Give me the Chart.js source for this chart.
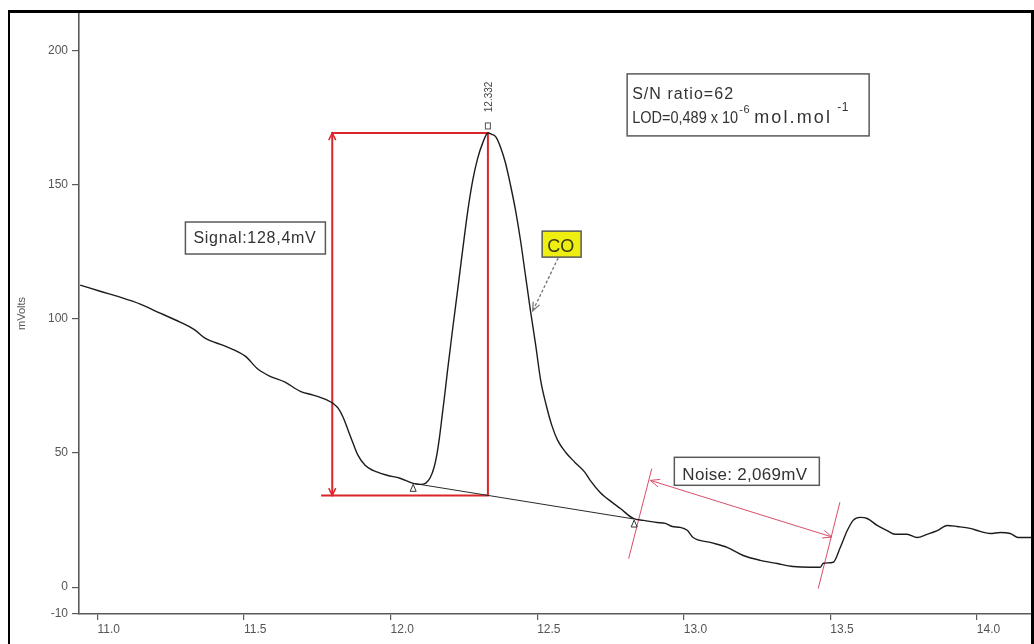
<!DOCTYPE html>
<html>
<head>
<meta charset="utf-8">
<title>CO peak – signal to noise</title>
<script src="https://cdn.jsdelivr.net/npm/chart.js@4.4.1/dist/chart.umd.min.js"></script>
<style>
  html, body { margin: 0; padding: 0; background: #fff; }
  canvas { display: block; }
</style>
</head>
<body>
<canvas id="chrom" width="1034" height="644"></canvas>
<script>
// Detector trace: retention time (min) and signal (mV)
const traceTime = [
  10.941, 11.009, 11.077, 11.146, 11.214, 11.282, 11.333, 11.367, 11.436, 11.504,
  11.548, 11.589, 11.640, 11.692, 11.736, 11.784, 11.804, 11.821, 11.838, 11.855,
  11.872, 11.889, 11.913, 11.940, 11.988, 12.032, 12.077, 12.101, 12.120, 12.135,
  12.148, 12.158, 12.167, 12.176, 12.185, 12.194, 12.203, 12.212, 12.229, 12.246,
  12.263, 12.280, 12.297, 12.314, 12.332, 12.345, 12.359, 12.376, 12.392, 12.409,
  12.426, 12.443, 12.460, 12.477, 12.495, 12.512, 12.531, 12.550, 12.570, 12.597,
  12.629, 12.663, 12.681, 12.715, 12.756, 12.783, 12.828, 12.862, 12.909, 12.937,
  12.961, 12.988, 13.012, 13.032, 13.090, 13.148, 13.203, 13.261, 13.319, 13.373,
  13.431, 13.466, 13.476, 13.510, 13.534, 13.558, 13.578, 13.602, 13.626, 13.660,
  13.694, 13.721, 13.762, 13.796, 13.830, 13.865, 13.899, 13.933, 13.977, 14.011,
  14.046, 14.080, 14.114, 14.141, 14.192
];
const traceSignal = [
  112.6, 110.3, 108.1, 105.5, 102.1, 98.8, 95.8, 92.8, 89.8, 86.1,
  81.2, 78.6, 76.4, 73.0, 71.6, 69.7, 68.5, 66.7, 63.3, 58.5,
  53.6, 49.1, 45.4, 43.5, 41.7, 40.6, 38.7, 38.3, 38.8, 40.8,
  44.5, 49.5, 56.0, 64.0, 72.0, 80.5, 88.5, 96.5, 111.0, 125.8,
  140.0, 151.5, 159.8, 165.5, 169.3, 168.8, 167.8, 163.7, 158.1, 149.9,
  140.6, 129.4, 116.3, 103.2, 90.2, 77.1, 67.8, 60.3, 54.7, 50.3,
  46.5, 42.8, 39.8, 35.3, 31.6, 29.4, 25.6, 24.9, 24.1, 23.8,
  22.6, 22.3, 21.2, 18.5, 16.7, 14.8, 11.8, 10.0, 8.8, 7.7,
  7.4, 7.4, 8.9, 9.3, 14.8, 21.1, 24.9, 26.0, 25.6, 23.0,
  21.1, 19.7, 19.7, 18.5, 19.7, 21.1, 23.0, 22.6, 21.9, 20.8,
  20.0, 20.4, 20.0, 18.5, 18.5
];

// Axis ticks
const xTickValues = [11.0, 11.5, 12.0, 12.5, 13.0, 13.5, 14.0];
const yTickValues = [-10, 0, 50, 100, 150, 200];

// Integration results for the CO peak
const peakName = 'CO';
const peakTime = 12.332;
const peakHeight = 169.3;
const baselineTime = [12.077, 12.831];
const baselineSignal = [38.7, 25.4];
const signalLabel = 'Signal:128,4mV';
const noiseLabel = 'Noise: 2,069mV';
const ratioLabel = 'S/N ratio=62';
const lodLabel = ['LOD=0,489 x 10', '-6', 'mol.mol', '-1'];

// Signal bracket: left edge time of the measuring bar
const signalBarTime = [11.763, 11.801];

// Noise window: two limit lines and the measuring arrow
const noiseLeftTime = [12.812, 12.891];
const noiseLeftSignal = [10.6, 44.2];
const noiseRightTime = [13.459, 13.533];
const noiseRightSignal = [-0.5, 31.7];
const noiseArrowTime = [12.886, 13.506];
const noiseArrowSignal = [39.8, 18.7];

const FONT = '"Liberation Sans", Arial, Helvetica, sans-serif';
const RED = '#d9262a';
const PINK = '#d8506a';

const pts = (ts, vs) => ts.map((t, i) => ({ x: t, y: vs[i] }));

// baseline level under the peak apex
const baseAtPeak = baselineSignal[0] + (peakTime - baselineTime[0]) *
  (baselineSignal[1] - baselineSignal[0]) / (baselineTime[1] - baselineTime[0]);

const signalBracket = [
  { x: signalBarTime[0], y: baseAtPeak },
  { x: peakTime, y: baseAtPeak },
  { x: peakTime, y: peakHeight },
  { x: signalBarTime[1], y: peakHeight },
  { x: signalBarTime[1], y: baseAtPeak }
];

// writes text so that it spans the given width:
// narrower text is squeezed, wider room is filled by letter spacing
function fitText(ctx, text, x, y, w, size, color) {
  ctx.save();
  ctx.font = size + 'px ' + FONT;
  ctx.fillStyle = color || '#333';
  ctx.textAlign = 'left';
  ctx.textBaseline = 'alphabetic';
  const m = ctx.measureText(text).width;
  if (w >= m && 'letterSpacing' in ctx) {
    const n = Array.from(text).length;
    ctx.letterSpacing = ((w - m) / n).toFixed(2) + 'px';
    ctx.fillText(text, x, y);
  } else {
    ctx.translate(x, y);
    ctx.scale(w / m, 1);
    ctx.fillText(text, 0, 0);
  }
  ctx.restore();
}

function arrowHead(ctx, x0, y0, x1, y1, len, spread) {
  const a = Math.atan2(y1 - y0, x1 - x0);
  ctx.beginPath();
  ctx.moveTo(x1 - len * Math.cos(a - spread), y1 - len * Math.sin(a - spread));
  ctx.lineTo(x1, y1);
  ctx.lineTo(x1 - len * Math.cos(a + spread), y1 - len * Math.sin(a + spread));
  ctx.stroke();
}

function box(ctx, x, y, w, h, fill) {
  ctx.save();
  if (fill) { ctx.fillStyle = fill; ctx.fillRect(x, y, w, h); }
  ctx.strokeStyle = '#5a5a5a';
  ctx.lineWidth = 1.5;
  ctx.strokeRect(x, y, w, h);
  ctx.restore();
}

const annotate = {
  id: 'annotate',
  beforeDraw(chart) {
    const ctx = chart.ctx;
    ctx.save();
    ctx.fillStyle = '#fff';
    ctx.fillRect(0, 0, chart.width, chart.height);
    ctx.restore();
  },
  afterDatasetsDraw(chart) {
    const ctx = chart.ctx;
    const X = chart.scales.x, Y = chart.scales.y;
    const px = t => X.getPixelForValue(t);
    const py = v => Y.getPixelForValue(v);
    ctx.save();

    // arrow tips of the signal bar
    ctx.strokeStyle = RED;
    ctx.lineWidth = 1.5;
    const sx = px(signalBarTime[1]);
    arrowHead(ctx, sx, py(baseAtPeak), sx, py(peakHeight), 8, 0.45);
    arrowHead(ctx, sx, py(peakHeight), sx, py(baseAtPeak), 8, 0.45);

    // arrow tips of the noise bar
    ctx.strokeStyle = PINK;
    ctx.lineWidth = 1;
    const ax0 = px(noiseArrowTime[0]), ay0 = py(noiseArrowSignal[0]);
    const ax1 = px(noiseArrowTime[1]), ay1 = py(noiseArrowSignal[1]);
    arrowHead(ctx, ax1, ay1, ax0, ay0, 10, 0.4);
    arrowHead(ctx, ax0, ay0, ax1, ay1, 10, 0.4);

    // integration markers on the baseline ends
    ctx.strokeStyle = '#333';
    ctx.lineWidth = 1;
    baselineTime.forEach((t, i) => {
      const x = px(t), y = py(baselineSignal[i]);
      ctx.beginPath();
      ctx.moveTo(x, y + 1);
      ctx.lineTo(x - 3, y + 8);
      ctx.lineTo(x + 3, y + 8);
      ctx.closePath();
      ctx.stroke();
    });

    // apex marker and retention time
    const pxp = px(peakTime), pyp = py(peakHeight);
    ctx.strokeStyle = '#555';
    ctx.strokeRect(pxp - 2.5, pyp - 10, 5, 6);
    ctx.save();
    ctx.translate(pxp + 1, pyp - 36);
    ctx.rotate(-Math.PI / 2);
    ctx.font = '10px ' + FONT;
    ctx.fillStyle = '#444';
    ctx.textAlign = 'center';
    ctx.textBaseline = 'middle';
    ctx.fillText(peakTime.toFixed(3), 0, 0);
    ctx.restore();

    // signal box
    let bx = px(11.300), by = py(136.1);
    box(ctx, bx, by, 140, 32);
    fitText(ctx, signalLabel, bx + 8, by + 20.5, 123, 16);

    // S/N and LOD box
    bx = px(12.807); by = py(191.3);
    box(ctx, bx, by, 242, 62);
    fitText(ctx, ratioLabel, bx + 5, by + 25.3, 102, 16);
    fitText(ctx, lodLabel[0], bx + 5, by + 48.7, 106, 16);
    fitText(ctx, lodLabel[1], bx + 112, by + 39.5, 11, 11);
    fitText(ctx, lodLabel[2], bx + 127, by + 48.7, 78, 18);
    fitText(ctx, lodLabel[3], bx + 210, by + 37, 12, 12);

    // noise box
    bx = px(12.968); by = py(48.4);
    box(ctx, bx, by, 145, 28);
    fitText(ctx, noiseLabel, bx + 8, by + 22.3, 125, 17);

    // peak name with pointer
    bx = px(12.517); by = py(132.7);
    box(ctx, bx, by, 39, 26, '#eeee10');
    fitText(ctx, peakName, bx + 5, by + 21, 27, 18, '#3a3a10');
    const tipX = px(12.485), tipY = py(103);
    ctx.strokeStyle = '#777';
    ctx.lineWidth = 1.3;
    ctx.setLineDash([3, 2]);
    ctx.beginPath();
    ctx.moveTo(bx + 16, by + 27);
    ctx.lineTo(tipX, tipY);
    ctx.stroke();
    ctx.setLineDash([]);
    arrowHead(ctx, bx + 16, by + 27, tipX, tipY, 9, 0.4);

    ctx.restore();
  },
  afterDraw(chart) {
    // window frame
    const ctx = chart.ctx;
    ctx.save();
    ctx.fillStyle = '#000';
    ctx.fillRect(8, 10, 1026, 3);
    ctx.fillRect(8, 10, 2, 634);
    ctx.fillRect(1031, 10, 3, 634);
    ctx.restore();
  }
};

const lineSet = (data, color, width, extra) => Object.assign({
  data, borderColor: color, borderWidth: width, pointRadius: 0,
  fill: false, tension: 0
}, extra || {});

new Chart(document.getElementById('chrom'), {
  type: 'line',
  data: {
    datasets: [
      lineSet(pts(traceTime, traceSignal), '#1c1c1c', 1.4, { cubicInterpolationMode: 'monotone' }),
      lineSet(pts(baselineTime, baselineSignal), '#2a2a2a', 1),
      lineSet(signalBracket, RED, 2),
      lineSet(pts(noiseLeftTime, noiseLeftSignal), PINK, 1),
      lineSet(pts(noiseRightTime, noiseRightSignal), PINK, 1),
      lineSet(pts(noiseArrowTime, noiseArrowSignal), PINK, 1)
    ]
  },
  options: {
    responsive: false,
    animation: false,
    devicePixelRatio: 1,
    layout: { padding: { top: 13, right: 0, left: 0, bottom: 0 }, autoPadding: false },
    plugins: { legend: { display: false }, tooltip: { enabled: false } },
    events: [],
    scales: {
      x: {
        type: 'linear',
        min: 10.937,
        max: 14.195,
        afterBuildTicks: s => { s.ticks = xTickValues.map(v => ({ value: v })); },
        afterFit: s => { s.height = 30; },
        border: { color: '#5a5a5a', width: 1.6 },
        grid: { drawOnChartArea: false, drawTicks: true, tickLength: 6, color: '#5a5a5a', lineWidth: 1.2 },
        ticks: {
          align: 'start', maxRotation: 0, autoSkip: false, padding: 2,
          color: '#555', font: { family: FONT, size: 12 },
          callback: v => Number(v).toFixed(1)
        }
      },
      y: {
        type: 'linear',
        min: -10,
        max: 214,
        afterBuildTicks: s => { s.ticks = yTickValues.map(v => ({ value: v })); },
        afterFit: s => { s.width = 79; },
        border: { color: '#5a5a5a', width: 1.6 },
        grid: { drawOnChartArea: false, drawTicks: true, tickLength: 7, color: '#5a5a5a', lineWidth: 1.2 },
        ticks: {
          padding: 4, color: '#555', font: { family: FONT, size: 12 },
          callback: v => String(v)
        },
        title: {
          display: true, text: 'mVolts', color: '#555',
          font: { family: FONT, size: 11 }, padding: { top: 15, bottom: 0 }
        }
      }
    }
  },
  plugins: [annotate]
});
</script>
</body>
</html>
